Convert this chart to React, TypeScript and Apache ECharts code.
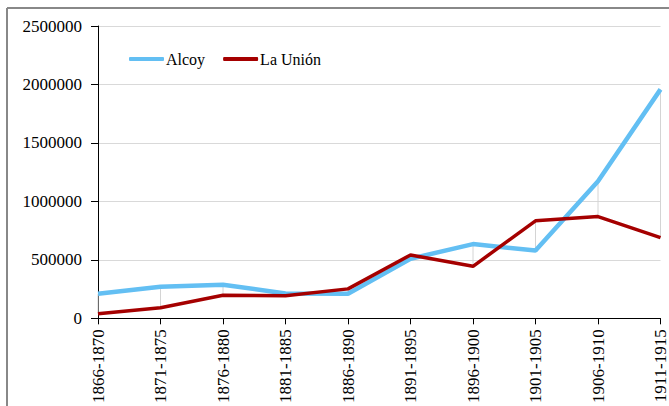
import React, { useEffect, useRef } from "react";
import * as echarts from "echarts";

const categories = [
  "1866-1870", "1871-1875", "1876-1880", "1881-1885", "1886-1890",
  "1891-1895", "1896-1900", "1901-1905", "1906-1910", "1911-1915",
];
const alcoy = [210000, 270000, 287000, 213000, 210000, 510000, 635000, 580000, 1172000, 1958000];
const laUnion = [40000, 90000, 197000, 194000, 252000, 542000, 445000, 834000, 870000, 690000];
const yTicks = { min: 0, max: 2500000, interval: 500000 };

const serif = "Times New Roman, Liberation Serif, serif";

export default function App() {
  const ref = useRef<HTMLDivElement>(null);
  useEffect(() => {
    if (!ref.current) return;
    const chart = echarts.init(ref.current, null, { renderer: "svg" });
    const hl = categories.map((_, i) => [i, alcoy[i], laUnion[i]]);
    chart.setOption({
      animation: false,
      backgroundColor: "#ffffff",
      textStyle: { fontFamily: serif },
      grid: { left: 98, right: 8, top: 26, bottom: 86, containLabel: false },
      legend: {
        data: [
          { name: "Alcoy", icon: "roundRect" },
          { name: "La Unión", icon: "roundRect" },
        ],
        left: 124,
        top: 46,
        itemWidth: 35,
        itemHeight: 4,
        itemGap: 18,
        textStyle: { fontFamily: serif, fontSize: 16, color: "#000", padding: [0, 0, 0, -3] },
      },
      xAxis: {
        type: "category",
        data: categories,
        boundaryGap: false,
        axisLine: { lineStyle: { color: "#000", width: 1 } },
        axisTick: { show: true, length: 6, lineStyle: { color: "#000" } },
        axisLabel: {
          rotate: 90,
          margin: 11,
          interval: 0,
          fontFamily: serif,
          fontSize: 17,
          color: "#000",
        },
        splitLine: { show: false },
      },
      yAxis: {
        type: "value",
        min: yTicks.min,
        max: yTicks.max,
        interval: yTicks.interval,
        axisLine: { show: true, lineStyle: { color: "#000", width: 1 } },
        axisTick: { show: true, length: 7, lineStyle: { color: "#000" } },
        axisLabel: {
          margin: 16,
          fontFamily: serif,
          fontSize: 17,
          color: "#000",
          formatter: (v: number) => String(v),
        },
        splitLine: { show: true, lineStyle: { color: "#d9d9d9", width: 1 } },
      },
      graphic: [
        { type: "line", shape: { x1: 7, y1: 8, x2: 7, y2: 406 }, style: { stroke: "#888", lineWidth: 2 }, z: 100 },
        { type: "line", shape: { x1: 7, y1: 8, x2: 669, y2: 8 }, style: { stroke: "#888", lineWidth: 2 }, z: 100 },
      ],
      series: [
        {
          type: "custom",
          name: "hl",
          data: hl,
          encode: { x: 0, y: [1, 2] },
          z: 1,
          silent: true,
          renderItem: (params: any, api: any) => {
            const p1 = api.coord([api.value(0), api.value(1)]);
            const p2 = api.coord([api.value(0), api.value(2)]);
            return {
              type: "line",
              shape: { x1: p1[0], y1: p1[1], x2: p2[0], y2: p2[1] },
              style: { stroke: "#d4d4d4", lineWidth: 1 },
            };
          },
        },
        {
          type: "line",
          name: "Alcoy",
          data: alcoy,
          symbol: "none",
          z: 3,
          lineStyle: { color: "#63bff3", width: 4.5 },
          itemStyle: { color: "#63bff3" },
        },
        {
          type: "line",
          name: "La Unión",
          data: laUnion,
          symbol: "none",
          z: 4,
          lineStyle: { color: "#a50000", width: 3.5 },
          itemStyle: { color: "#a50000" },
        },
      ],
    });
    return () => chart.dispose();
  }, []);
  return (
    <div
      ref={ref}
      style={{ position: "fixed", left: 0, top: 0, width: 669, height: 406 }}
    />
  );
}
